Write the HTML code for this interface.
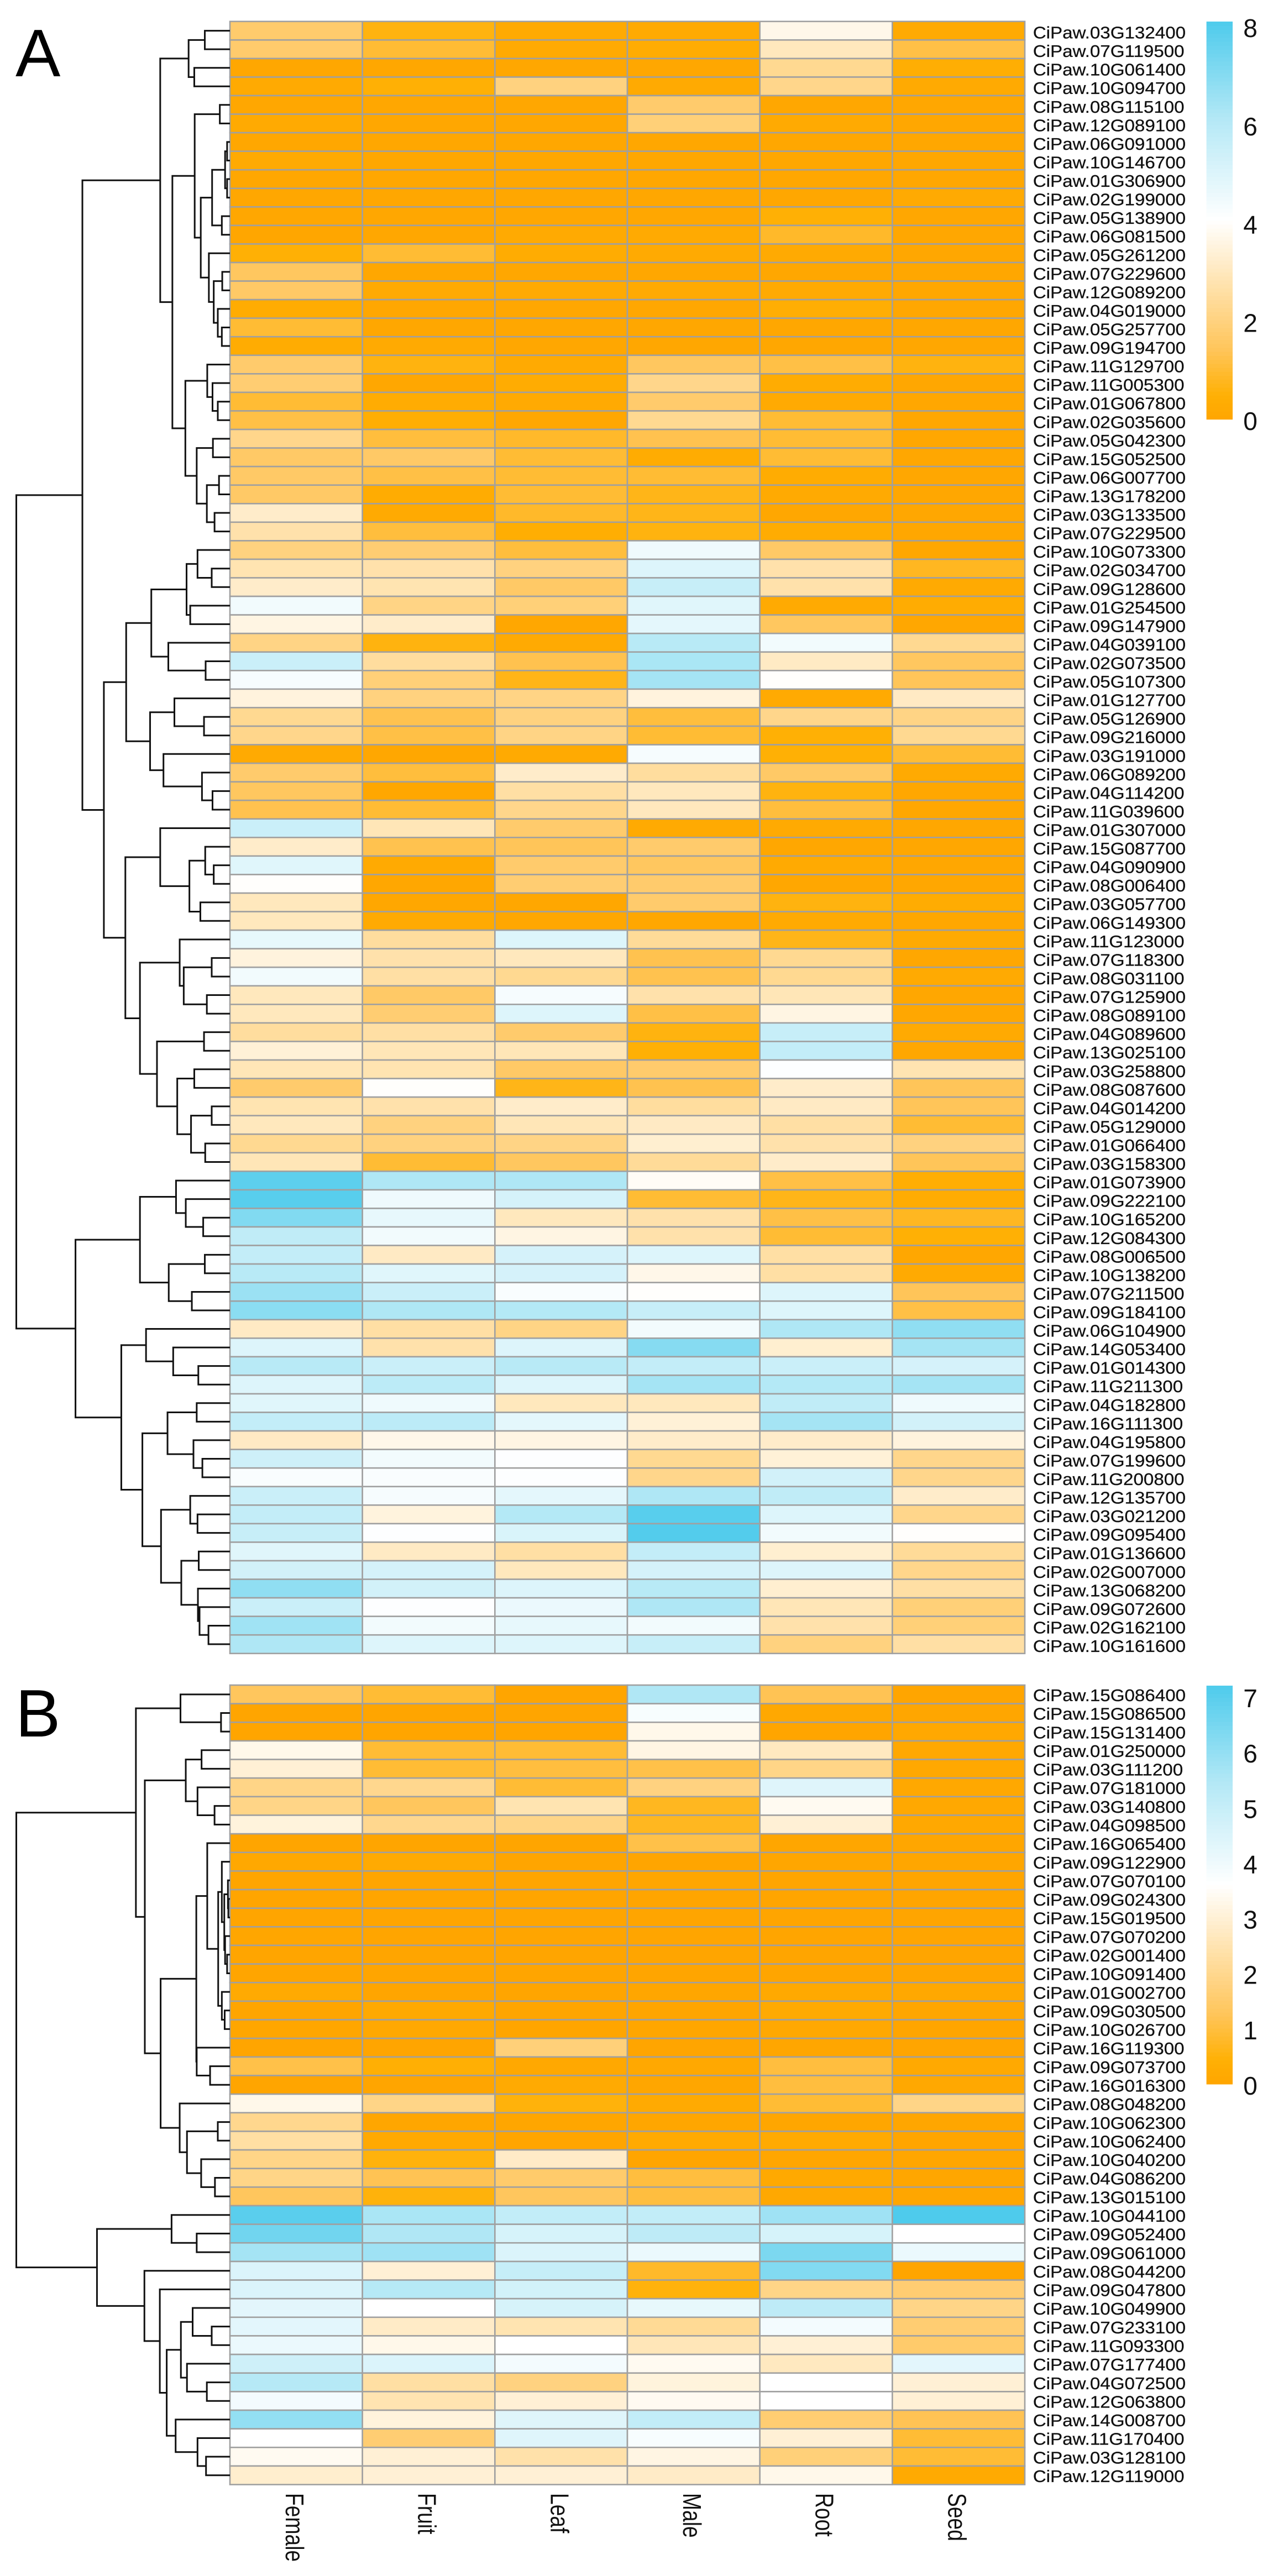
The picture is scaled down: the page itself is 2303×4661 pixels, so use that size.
<!DOCTYPE html>
<html lang="en">
<head>
<meta charset="utf-8">
<title>Clustered expression heatmaps</title>
<style>
html,body{margin:0;padding:0;background:#fff;}
#figure{display:block;width:2303px;height:4661px;font-family:"Liberation Sans",Arial,sans-serif;}
</style>
</head>
<body>
<svg id="figure" xmlns="http://www.w3.org/2000/svg" width="2303" height="4661" viewBox="0 0 2303 4661">
  <rect x="0" y="0" width="2303" height="4661" fill="#ffffff"/>
  <text x="28" y="138" font-size="122" fill="#000">A</text>
  <text x="28" y="3142" font-size="122" fill="#000">B</text>
  <g id="panelA"></g>
  <g id="panelB"></g>
</svg>
<script>
const tissues = ["Female","Fruit","Leaf","Male","Root","Seed"];

const genesA = ["03G132400","07G119500","10G061400","10G094700","08G115100","12G089100","06G091000","10G146700","01G306900","02G199000","05G138900","06G081500","05G261200","07G229600","12G089200","04G019000","05G257700","09G194700","11G129700","11G005300","01G067800","02G035600","05G042300","15G052500","06G007700","13G178200","03G133500","07G229500","10G073300","02G034700","09G128600","01G254500","09G147900","04G039100","02G073500","05G107300","01G127700","05G126900","09G216000","03G191000","06G089200","04G114200","11G039600","01G307000","15G087700","04G090900","08G006400","03G057700","06G149300","11G123000","07G118300","08G031100","07G125900","08G089100","04G089600","13G025100","03G258800","08G087600","04G014200","05G129000","01G066400","03G158300","01G073900","09G222100","10G165200","12G084300","08G006500","10G138200","07G211500","09G184100","06G104900","14G053400","01G014300","11G211300","04G182800","16G111300","04G195800","07G199600","11G200800","12G135700","03G021200","09G095400","01G136600","02G007000","13G068200","09G072600","02G162100","10G161600"];

const valuesA = [
[1.7,.6,.2,.2,3.7,.2],[1.7,1.0,.2,.3,3.0,1.2],[.1,.1,.1,.1,2.3,.4],[.2,.5,2.0,.2,2.2,.2],
[.1,.1,.1,1.7,.1,.1],[.2,.1,.1,1.9,.2,.1],[.1,.1,.1,.1,.1,.1],[.2,.1,.1,.1,.1,.1],
[.1,.1,.1,.1,.1,.1],[.1,.1,.1,.1,.1,.2],[.1,.1,.1,.1,.5,.1],[.05,.1,.2,.2,.9,.1],
[.5,1.0,.3,.2,.2,.1],[1.5,.1,.1,.1,.1,.1],[1.6,.2,.2,.2,.2,.1],[.3,.1,.1,.1,.4,.1],
[1.0,.1,.1,.1,.1,.1],[.3,.2,.1,.1,.1,.1],[1.7,.6,.2,1.5,1.2,.6],[1.8,.1,.3,2.2,.3,.1],
[1.0,.3,.2,1.7,.2,.1],[1.2,.4,.1,2.3,1.0,.1],[2.2,1.1,.9,1.3,1.0,.1],[1.6,1.6,1.0,.3,1.0,.1],
[1.6,1.2,1.0,1.0,.3,.1],[1.6,.3,1.0,.7,.2,.1],[3.2,.2,.9,.7,.1,.1],[2.7,1.1,.4,.6,.3,.1],
[2.0,1.8,1.1,4.5,1.6,.1],[2.8,2.7,2.0,5.0,2.7,.8],[3.2,2.8,1.6,5.6,2.7,.2],[4.4,2.1,1.9,4.9,.2,.3],
[3.6,3.2,.1,4.8,1.5,.1],[2.1,.6,.2,6.0,4.4,2.3],[5.5,2.5,1.3,6.3,3.1,1.5],[4.3,1.9,.7,6.4,4.0,1.4],
[3.5,2.0,2.1,3.5,.2,3.1],[2.3,1.3,2.0,1.1,2.2,2.1],[2.2,1.2,2.1,1.0,.5,2.3],[.2,.1,.2,4.3,.5,1.0],
[1.7,1.1,3.2,2.5,1.6,.2],[1.5,.1,2.6,3.0,.6,.1],[1.3,1.0,2.2,3.0,1.1,.1],[5.5,2.9,1.7,.2,.2,.1],
[3.2,1.3,1.4,1.7,.1,.1],[4.9,.2,1.7,1.5,.2,.1],[4.0,.1,1.8,1.7,.1,.1],[3.0,.1,.1,1.7,.6,.3],
[3.0,.2,.1,.1,.2,.1],[4.7,2.5,5.0,2.4,.7,.2],[3.5,2.7,3.0,1.3,2.3,.1],[4.4,2.6,2.3,1.3,2.3,.2],
[3.0,1.6,4.3,2.7,2.9,.1],[3.0,1.8,5.0,1.2,3.6,.1],[2.5,2.6,1.7,.6,5.6,.2],[3.4,2.9,2.9,.5,5.7,.1],
[2.9,2.8,1.6,1.7,4.1,2.8],[1.7,4.0,.7,1.3,3.2,1.4],[2.8,2.7,3.2,2.5,3.1,1.4],[3.0,2.0,2.9,3.1,2.6,1.0],
[2.3,2.0,2.1,3.3,2.7,2.0],[2.9,1.0,1.5,2.4,3.2,1.4],[7.8,6.2,6.2,3.9,1.2,.4],[7.9,4.5,5.2,1.0,.7,.3],
[7.1,4.7,3.0,2.7,1.2,.8],[5.8,4.4,3.6,2.7,1.0,.5],[5.7,3.1,5.2,5.0,2.6,.1],[6.0,4.9,5.2,3.7,2.6,.2],
[6.6,5.5,4.2,4.0,5.0,1.4],[6.9,6.2,6.1,5.6,5.0,1.2],[3.1,2.6,2.1,4.4,6.2,6.8],[5.0,2.7,5.0,7.0,3.3,6.4],
[6.0,5.5,6.0,5.7,5.5,5.2],[5.0,5.9,5.0,6.4,6.1,6.4],[4.9,4.5,3.0,3.0,5.8,4.5],[5.7,5.9,4.8,3.4,6.4,5.3],
[3.1,3.7,3.6,3.2,3.2,3.5],[5.4,4.4,4.1,2.3,3.4,2.2],[4.2,4.2,4.1,2.2,5.3,2.2],[5.5,4.3,4.8,6.2,5.8,3.2],
[5.7,3.5,6.1,7.9,5.0,2.2],[5.6,4.1,5.1,8.0,4.4,4.0],[4.9,3.1,2.6,5.7,3.3,2.4],[5.3,5.2,3.0,5.2,5.0,2.2],
[6.8,5.3,5.0,6.0,3.3,2.6],[5.5,4.1,4.6,6.2,2.9,1.9],[6.5,4.4,4.7,4.4,2.7,1.9],[6.2,5.0,5.0,5.6,2.0,2.6]
];

const genesB = ["15G086400","15G086500","15G131400","01G250000","03G111200","07G181000","03G140800","04G098500","16G065400","09G122900","07G070100","09G024300","15G019500","07G070200","02G001400","10G091400","01G002700","09G030500","10G026700","16G119300","09G073700","16G016300","08G048200","10G062300","10G062400","10G040200","04G086200","13G015100","10G044100","09G052400","09G061000","08G044200","09G047800","10G049900","07G233100","11G093300","07G177400","04G072500","12G063800","14G008700","11G170400","03G128100","12G119000"];

const valuesB = [
[1.3,.9,0,5.5,1.2,0],[0,0,0,3.8,.1,.05],[0,0,0,3.3,0,.1],[3.3,.9,.9,3.2,2.7,.1],
[3.0,.9,1.0,1.1,1.9,.1],[1.9,2.0,.9,1.8,4.4,.1],[1.9,1.3,2.5,.7,3.4,.1],[3.1,2.0,1.9,.7,3.0,.1],
[0,0,0,1.1,.05,.05],[.1,.2,0,0,.05,.05],[0,0,0,.05,0,0],[0,0,0,0,0,0],
[0,0,0,0,0,0],[.05,0,0,0,0,0],[0,0,0,0,0,0],[0,0,0,0,0,0],
[.2,0,0,.05,.15,.1],[0,.15,0,0,.2,.05],[.05,.1,0,.05,.1,0],[0,0,1.7,0,.05,0],
[1.1,.4,.1,.1,1.0,.15],[0,0,.2,.05,1.0,.1],[3.3,1.9,.5,.2,.9,1.9],[2.0,.05,.05,.05,.05,.05],
[2.3,.15,0,.2,.2,0],[1.9,.5,2.8,0,.05,.05],[1.9,1.2,1.5,1.0,.15,.05],[1.3,.5,1.3,1.0,.1,.05],
[7.0,5.6,5.1,5.1,5.8,7.2],[6.6,5.5,4.6,5.2,4.6,3.6],[5.7,5.8,4.5,4.1,6.4,4.1],[4.5,3.0,5.0,.8,6.3,0],
[4.5,5.4,4.7,.5,1.9,1.6],[4.3,3.6,4.6,4.2,5.2,1.9],[4.3,2.8,2.5,2.1,3.9,1.6],[4.1,3.3,3.6,2.6,3.0,1.5],
[4.8,4.5,3.9,3.4,2.7,4.3],[5.4,2.3,1.8,3.1,3.6,3.0],[3.9,2.5,3.0,3.4,3.6,3.0],[6.0,3.1,4.4,5.1,1.6,1.2],
[3.6,1.6,4.4,3.8,3.0,.9],[3.4,3.0,2.4,3.2,1.7,.9],[2.9,3.0,3.0,2.8,3.3,.2]
];

/* Dendrograms: [merge distance, left child, right child]; a bare number is a 1-based row. */
const treeA = [527,
 [364,
  [172,
   [102,[62,1,2],[88,3,4]],
   [142,
    [87,[25,5,6],
     [72,
      [44,[12,[7,7,8],[7,9,10]],[20,11,12]],
      [52,13,[40,[19,14,15],[30,16,[20,17,18]]]]
     ]
    ],
    [110,
     [56,19,[43,20,[30,21,22]]],
     [82,[42,23,24],[57,[27,25,26],[38,27,28]]]
    ]
   ]
  ],
  [311,
   [256,
    [194,
     [107,[80,29,[45,30,31]],[98,32,33]],
     [152,34,[60,35,36]]
    ],
    [197,
     [137,37,[64,38,39]],
     [164,40,[69,41,[43,42,43]]]
    ]
   ],
   [258,
    [172,44,[100,[61,45,[40,46,47]],[73,48,49]]],
    [222,
     [124,50,[114,[45,51,52],[57,53,54]]],
     [180,[64,55,56],[130,[88,57,58],[96,[45,59,60],[61,61,62]]]]
    ]
   ]
  ]
 ],
 [381,
  [222,
   [133,63,[109,64,[66,65,66]]],
   [151,[62,67,68],[94,69,70]]
  ],
  [268,
   [207,71,[140,72,[78,73,74]]],
   [216,
    [154,[82,75,76],[90,77,[68,78,79]]],
    [170,
     [98,80,[80,81,82]],
     [120,[77,83,84],[79,85,[75,86,[53,87,88]]]]
    ]
   ]
  ]
 ]
];

const treeB = [527,
 [232,
  [122,1,[22,2,3]],
  [210,
   [109,[70,4,5],[80,6,[38,7,8]]],
   [171,
    [83,
     [56,9,[29,
      [20,10,[14,[5,11,[4,12,13]],[12,14,[7,15,16]]]],
      [20,17,[13,18,19]]
     ]],
     [82,20,[49,21,22]]
    ],
    [124,23,[106,[30,24,25],[71,26,[37,27,28]]]]
   ]
  ]
 ],
 [328,
  [144,29,[82,30,31]],
  [211,32,[173,33,[156,
   [121,[92,34,[45,35,36]],[106,37,[57,38,39]]],
   [134,40,[80,41,[59,42,43]]]
  ]]]
 ]
];

const legendTicksA = [0,2,4,6,8];
const legendTicksB = [0,1,2,3,4,5,6,7];
const legendMaxA = 8.09;
const legendMaxB = 7.2;

const SVGNS = "http://www.w3.org/2000/svg";
const gridLeft = 416, gridRight = 1854;
const colW = (gridRight - gridLeft) / tissues.length;
const treeScale = 0.7334;

function mix(a, b, t) {
  return [0,1,2].map(i => Math.round(a[i] + (b[i] - a[i]) * t));
}
function colorFor(v, max) {
  const u = Math.max(0, Math.min(1, v / max));
  const stops = [
    [0, [255,165,0]],
    [0.06, [255,176,4]],
    [0.175, [255,197,90]],
    [0.5, [255,255,255]],
    [0.75, [182,233,246]],
    [1, [78,203,236]]
  ];
  for (let i = 1; i < stops.length; i++) {
    if (u <= stops[i][0]) {
      const t = (u - stops[i-1][0]) / (stops[i][0] - stops[i-1][0]);
      const c = mix(stops[i-1][1], stops[i][1], t);
      return "rgb(" + c.join(",") + ")";
    }
  }
  return "rgb(78,203,236)";
}
function make(tag, attrs, parent) {
  const el = document.createElementNS(SVGNS, tag);
  for (const k in attrs) el.setAttribute(k, attrs[k]);
  parent.appendChild(el);
  return el;
}

function drawPanel(cfg) {
  const root = document.getElementById(cfg.id);
  const rowH = (cfg.bottom - cfg.top) / cfg.genes.length;
  const xScale = c => gridLeft + c * colW;
  const yScale = r => cfg.top + r * rowH;
  const treeX = d => gridLeft - d * treeScale;

  /* cells */
  const cells = make("g", {}, root);
  
  
  cfg.values.forEach((row, r) => {
    row.forEach((v, c) => {
      const cell = make("rect", {
        x: xScale(c), y: yScale(r), width: colW, height: rowH,
        fill: colorFor(v, cfg.max), stroke: "#a0a0a0", "stroke-width": 2.6
      }, cells);
      
      
    });
  });

  /* gene labels */
  const labels = make("g", {}, root);
  
  
  cfg.genes.forEach((g, r) => {
    const cy = yScale(r + 0.5) + cfg.labelShift;
    const t = make("text", {
      transform: "translate(1868.7," + cy + ") scale(1.08,1)",
      "font-size": 30.7, fill: "#111", stroke: "#111", "stroke-width": 0.3
    }, labels);
    t.textContent = "CiPaw." + g;
    
    
  });

  /* dendrogram */
  const tree = make("g", {fill: "none", stroke: "#111", "stroke-width": 3, "stroke-linejoin": "miter"}, root);
  
  
  function walk(node) {
    if (typeof node === "number") return {x: gridLeft, y: yScale(node - 0.5)};
    const a = walk(node[1]);
    const b = walk(node[2]);
    const x = treeX(node[0]);
    const link = make("path", {
      d: "M" + a.x + " " + a.y + "H" + x + "V" + b.y + "H" + b.x
    }, tree);
    
    
    return {x: x, y: (a.y + b.y) / 2};
  }
  walk(cfg.tree);

  /* legend */
  const legend = make("g", {}, root);
  
  
  const legendH = cfg.legendBottom - cfg.legendTop;
  const steps = 100;
  for (let i = 0; i < steps; i++) {
    const swatch = make("rect", {
      x: 2182.6,
      y: cfg.legendBottom - (i + 1) * legendH / steps,
      width: 47.4,
      height: legendH / steps + 0.5,
      fill: colorFor((i + 0.5) / steps * cfg.max, cfg.max)
    }, legend);
    
    
  }
  cfg.ticks.forEach(tick => {
    const y = cfg.tickZero - (tick / cfg.tickMax) * (cfg.tickZero - cfg.tickTop);
    const t = make("text", {
      x: 2262, y: y + 16, "font-size": 46, "text-anchor": "middle", fill: "#111"
    }, legend);
    t.textContent = String(tick);
    
    
  });

  /* column labels */
  if (cfg.columnLabels) {
    const cols = make("g", {}, root);
    
    
    tissues.forEach((name, c) => {
      const x = xScale(c + 0.5) - 18.8;
      const t = make("text", {
        transform: "translate(" + x + ",4511) rotate(90) scale(0.81,1)",
        "font-size": 46, fill: "#111"
      }, cols);
      t.textContent = name;
      
      
    });
  }
}

drawPanel({
  id: "panelA", genes: genesA, values: valuesA, tree: treeA, max: legendMaxA,
  top: 38.8, bottom: 2991.8, labelShift: 14,
  legendTop: 39, legendBottom: 758.7, ticks: legendTicksA,
  tickZero: 762, tickTop: 51, tickMax: 8, columnLabels: false
});
drawPanel({
  id: "panelB", genes: genesB, values: valuesB, tree: treeB, max: legendMaxB,
  top: 3049, bottom: 4495.6, labelShift: 12.2,
  legendTop: 3050, legendBottom: 3771, ticks: legendTicksB,
  tickZero: 3774, tickTop: 3073, tickMax: 7, columnLabels: true
});
</script>
</body>
</html>
